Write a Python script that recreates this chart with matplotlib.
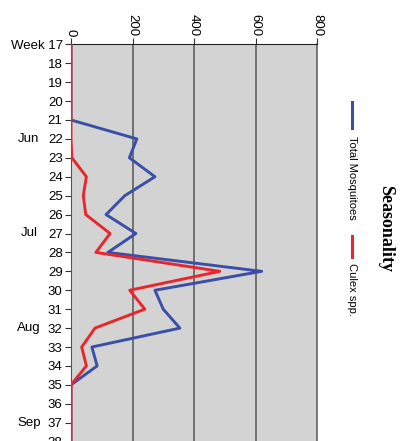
import matplotlib.pyplot as plt
from matplotlib.lines import Line2D
from matplotlib.transforms import blended_transform_factory

weeks = list(range(17, 39))
total_mosquitoes = [0, 0, 0, 0, 0, 214, 190, 273, 175, 114, 211, 120,
                    620, 273, 300, 354, 68, 85, 0, 0, 0, 0]
culex = [0, 0, 0, 0, 0, 0, 3, 50, 40, 48, 127, 81,
         484, 191, 240, 78, 35, 50, 0, 0, 0, 0]
week_labels = ["Week 17"] + [str(w) for w in weeks[1:]]
months = {"Jun": 22, "Jul": 27, "Aug": 32, "Sep": 37}
x_ticks = [0, 200, 400, 600, 800]

W, H = 401, 441
fig = plt.figure(figsize=(W / 100, H / 100), dpi=100)
plt.rcParams['font.family'] = ['Liberation Sans', 'DejaVu Sans']

# axes: x=0 at px 71, x=800 at px 317; week 17 at px 44.3, 18.92 px per week
left, right = 71, 317
top = 44.3
per_week = 18.92
bottom_week = 39
bottom_px = top + (bottom_week - 17) * per_week
ax = fig.add_axes([left / W, 1 - bottom_px / H, (right - left) / W, (bottom_px - top) / H])
ax.set_facecolor('#d3d3d3')

ax.plot(total_mosquitoes, weeks, color='#3b4fa6', lw=2.1, zorder=3)
ax.plot(culex, weeks, color='#e8262c', lw=2.1, zorder=4)

ax.set_xlim(0, 800)
ax.set_ylim(bottom_week, 17)
ax.xaxis.tick_top()
ax.set_xticks(x_ticks)
ax.set_xticklabels([str(v) for v in x_ticks], rotation=-90, fontsize=9.5)
ax.set_yticks(weeks)
ax.set_yticklabels(week_labels, fontsize=9.5)
ax.tick_params(axis='x', length=4, width=0.8, pad=2, color='#333333')
ax.tick_params(axis='y', length=4, width=0.8, pad=2, color='#333333')
for v in x_ticks[1:4]:
    ax.axvline(v, color='#555555', lw=1.1, zorder=2)

ax.spines['top'].set_color('#222222')
ax.spines['right'].set_color('#555555')
ax.spines['right'].set_linewidth(1.1)
ax.spines['left'].set_color('#555555')
ax.spines['bottom'].set_visible(False)

trans = blended_transform_factory(ax.transAxes, ax.transData)
for name, wk in months.items():
    ax.text((29 - left) / (right - left), wk, name, transform=trans,
            ha='center', va='center', fontsize=9.5)

# legend, rotated
fig.lines.append(Line2D([352 / W, 352 / W], [1 - 102 / H, 1 - 128 / H],
                        color='#3b4fa6', lw=2.2, transform=fig.transFigure))
fig.text(352 / W, 1 - 136 / H, "Total Mosquitoes", rotation=-90,
         ha='center', va='top', fontsize=8)
fig.lines.append(Line2D([352 / W, 352 / W], [1 - 236 / H, 1 - 257 / H],
                        color='#e8262c', lw=2.2, transform=fig.transFigure))
fig.text(352 / W, 1 - 263 / H, "Culex spp.", rotation=-90,
         ha='center', va='top', fontsize=8)

fig.text(386 / W, 1 - 229 / H, "Seasonality", rotation=-90, ha='center',
         va='center', fontsize=13, fontweight='bold', family='Liberation Serif')

fig.savefig('out.png', dpi=100)
